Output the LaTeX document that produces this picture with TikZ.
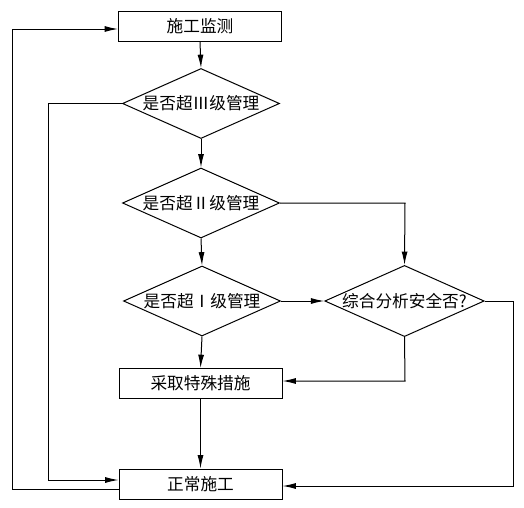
\documentclass[tikz,border=0pt]{standalone}
\usepackage{fontspec}
\setmainfont{Noto Sans CJK SC}
\usetikzlibrary{shapes.geometric,arrows.meta}
\begin{document}
\begin{tikzpicture}[x=0.75pt,y=-0.75pt,
  procbox/.style={draw, line width=0.75pt, minimum width=122.25pt, minimum height=22.5pt, inner sep=0pt, font=\fontsize{12.5pt}{14pt}\selectfont},
  decision/.style={draw, diamond, aspect=2.24, line width=0.75pt, minimum width=117.75pt, minimum height=52.5pt, inner sep=0pt, font=\fontsize{12.5pt}{14pt}\selectfont},
  flow/.style={draw, line width=0.75pt, -{Latex[length=10pt,width=4.5pt]}},
  plain/.style={draw, line width=0.75pt}]
\useasboundingbox (0,0) rectangle (524,507);
\node[procbox] (mon) at (200,26.5) {施工监测};
\node[decision] (d1) at (201,103.5) {是否超Ⅲ级管理};
\node[decision] (d2) at (201,203) {是否超Ⅱ级管理};
\node[decision] (d3) at (202,301) {是否超Ⅰ级管理};
\node[decision] (d4) at (404.5,301) {综合分析安全否?};
\node[procbox] (sp) at (200.5,383.5) {采取特殊措施};
\node[procbox] (nm) at (200.5,484) {正常施工};
% bend points
\coordinate (c1) at (48,103.5);
\coordinate (c2) at (48,480);
\coordinate (c3) at (12,489);
\coordinate (c4) at (12,29);
\coordinate (c5) at (405,203);
\coordinate (c6) at (405,381);
\coordinate (c7) at (513,301);
\coordinate (c8) at (513,486);
% main flow
\draw[flow] (mon.south) -- (d1.north);
\draw[flow] (d1.south) -- (d2.north);
\draw[flow] (d2.south) -- (d3.north);
\draw[flow] (d3.south) -- (sp.north);
\draw[flow] (sp.south) -- (nm.north);
\draw[flow] (d3.east) -- (d4.west);
% left loops
\draw[flow] (d1.west) -- (c1) -- (c2) -- (c2 -| nm.west);
\draw[flow] (c3 -| nm.west) -- (c3) -- (c4) -- (c4 -| mon.west);
% right branches
\draw[flow] (d2.east) -- (c5) -- (d4.north);
\draw[flow] (d4.south) -- (c6) -- (c6 -| sp.east);
\draw[flow] (d4.east) -- (c7) -- (c8) -- (c8 -| nm.east);
\end{tikzpicture}
\end{document}
